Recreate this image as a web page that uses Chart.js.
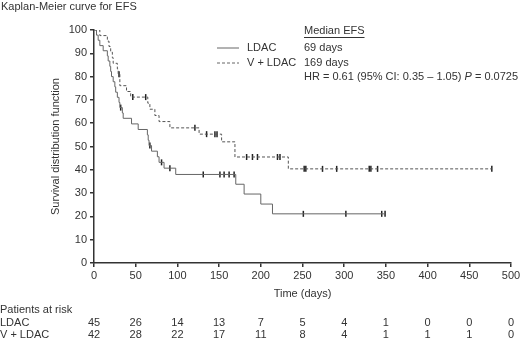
<!DOCTYPE html>
<html>
<head>
<meta charset="utf-8">
<script src="https://cdn.jsdelivr.net/npm/chart.js@4.4.0/dist/chart.umd.min.js"></script>
<style>
  html, body { margin: 0; padding: 0; background: #fff; }
  #km { display: block; }
</style>
</head>
<body>
<canvas id="km" width="520" height="340"></canvas>
<script>
// Kaplan-Meier steps: time (days) and survival (%) after each event
const ldacTimes = [0, 3, 5, 7, 11, 16, 17, 19, 20, 21, 23, 25, 26, 28, 30, 31, 34, 35, 45, 53, 64, 65, 66, 69, 76, 78, 84, 98, 170, 180, 200, 214, 349]
const ldacSurvival = [100, 97.8, 95.6, 93.3, 91.1, 88.9, 86.7, 84.4, 82.2, 80.0, 77.8, 75.6, 73.3, 71.1, 68.9, 66.7, 64.4, 62.1, 59.7, 57.3, 55.0, 52.7, 50.4, 48.0, 45.6, 43.2, 40.7, 38.0, 33.8, 29.6, 25.3, 21.1, 21.1]
const ldacCensored = [32, 67, 81, 91, 131, 151, 156, 162, 168, 251, 302, 345, 349]

const vldacTimes = [0, 7, 16, 18, 20, 22, 23, 28, 29, 31, 39, 44, 64.5, 67, 73, 78, 91, 126, 153, 169, 233, 477]
const vldacSurvival = [100, 97.6, 95.2, 92.9, 90.5, 88.1, 85.7, 83.3, 81.0, 76.1, 73.6, 71.2, 68.6, 66.0, 63.3, 60.7, 58.0, 55.3, 52.0, 45.5, 40.4, 40.4]
const vldacCensored = [30, 46.5, 62, 121, 135, 145, 147.5, 183, 190, 196, 220, 223, 252, 254, 274, 291, 330, 332, 340, 477]

// Patients at risk table
const riskTimes = [0, 50, 100, 150, 200, 250, 300, 350, 400, 450, 500]
const riskLdac = [45, 26, 14, 13, 7, 5, 4, 1, 0, 0, 0]
const riskVldac = [42, 28, 22, 17, 11, 8, 4, 1, 1, 1, 0]

const FONT = '"Liberation Sans", Arial, Helvetica, sans-serif'
const TEXT = '#333'

function stepPoints(times, surv) {
    return times.map((t, i) => ({ x: t, y: surv[i] }))
}

// survival value of the step function at a censoring time
function censorPoints(times, surv, censored) {
    return censored.map(c => {
        let s = surv[0]
        for (let i = 0; i < times.length; i++) {
            if (times[i] <= c) s = surv[i]
        }
        return { x: c, y: s }
    })
}

const annotations = {
    id: 'annotations',
    afterDraw(chart) {
        const ctx = chart.ctx
        const x = chart.scales.x
        ctx.save()
        ctx.fillStyle = TEXT
        ctx.textBaseline = 'middle'
        ctx.font = '11px ' + FONT

        ctx.textAlign = 'left'
        ctx.fillText('Kaplan-Meier curve for EFS', 1, 7)

        // legend samples
        ctx.strokeStyle = '#666'
        ctx.lineWidth = 1
        ctx.beginPath()
        ctx.moveTo(217, 48)
        ctx.lineTo(239, 48)
        ctx.stroke()
        ctx.setLineDash([3, 2])
        ctx.beginPath()
        ctx.moveTo(217, 63)
        ctx.lineTo(239, 63)
        ctx.stroke()
        ctx.setLineDash([])

        ctx.fillText('LDAC', 247, 48)
        ctx.fillText('V + LDAC', 247, 63)

        ctx.fillText('Median EFS', 304, 31)
        const w = ctx.measureText('Median EFS').width
        ctx.strokeStyle = TEXT
        ctx.beginPath()
        ctx.moveTo(304, 37.5)
        ctx.lineTo(304 + w, 37.5)
        ctx.stroke()

        ctx.fillText('69 days', 304, 48)
        ctx.fillText('169 days', 304, 63)

        let hx = 304
        const part1 = 'HR = 0.61 (95% CI: 0.35 \u2013 1.05) '
        ctx.fillText(part1, hx, 77)
        hx += ctx.measureText(part1).width
        ctx.font = 'italic 11px ' + FONT
        ctx.fillText('P', hx, 77)
        hx += ctx.measureText('P').width
        ctx.font = '11px ' + FONT
        ctx.fillText(' = 0.0725', hx, 77)

        // patients at risk
        ctx.fillText('Patients at risk', 0, 310)
        ctx.fillText('LDAC', 0, 323)
        ctx.fillText('V + LDAC', 0, 335)
        ctx.textAlign = 'center'
        riskTimes.forEach((t, i) => {
            const px = x.getPixelForValue(t)
            ctx.fillText(String(riskLdac[i]), px, 323)
            ctx.fillText(String(riskVldac[i]), px, 335)
        })
        ctx.restore()
    }
}

function pinPadding(scale) {
    scale.paddingTop = 0
    scale.paddingBottom = 0
    scale.paddingLeft = 0
    scale.paddingRight = 0
}

const data = {
    datasets: [
        {
            label: 'LDAC',
            data: stepPoints(ldacTimes, ldacSurvival),
            stepped: 'before',
            borderColor: '#666',
            borderWidth: 1,
            pointRadius: 0,
            fill: false
        },
        {
            label: 'V + LDAC',
            data: stepPoints(vldacTimes, vldacSurvival),
            stepped: 'before',
            borderColor: '#555',
            borderWidth: 1,
            borderDash: [3, 2],
            pointRadius: 0,
            fill: false
        },
        {
            label: 'LDAC censored',
            type: 'scatter',
            data: censorPoints(ldacTimes, ldacSurvival, ldacCensored),
            pointStyle: 'line',
            rotation: 90,
            pointRadius: 3,
            borderColor: '#222',
            borderWidth: 1.5
        },
        {
            label: 'V + LDAC censored',
            type: 'scatter',
            data: censorPoints(vldacTimes, vldacSurvival, vldacCensored),
            pointStyle: 'line',
            rotation: 90,
            pointRadius: 3,
            borderColor: '#222',
            borderWidth: 1.5
        }
    ]
}

const config = {
    type: 'line',
    data: data,
    options: {
        responsive: false,
        animation: false,
        layout: { padding: { top: 30, right: 9, left: 0, bottom: 0 } },
        plugins: {
            legend: { display: false },
            title: { display: false },
            tooltip: { enabled: false }
        },
        scales: {
            x: {
                type: 'linear',
                min: 0,
                max: 500,
                ticks: { stepSize: 50, color: TEXT, font: { family: FONT, size: 11 }, padding: 2, maxRotation: 0 },
                grid: { drawOnChartArea: false, drawTicks: true, tickLength: 4, color: '#333', lineWidth: 1.5 },
                border: { display: true, color: '#333', width: 1.5 },
                title: { display: true, text: 'Time (days)', color: TEXT, font: { family: FONT, size: 11 }, padding: { top: 0, bottom: 39 } },
                afterFit(scale) { scale.height = 77; pinPadding(scale) }
            },
            y: {
                min: 0,
                max: 100,
                ticks: { stepSize: 10, color: TEXT, font: { family: FONT, size: 11 }, padding: 3 },
                grid: { drawOnChartArea: false, drawTicks: true, tickLength: 4, color: '#333', lineWidth: 1.5 },
                border: { display: true, color: '#333', width: 1.5 },
                title: { display: true, text: 'Survival distribution function', color: TEXT, font: { family: FONT, size: 11 }, padding: { top: 49, bottom: 0 } },
                afterFit(scale) { scale.width = 94; pinPadding(scale) }
            }
        }
    },
    plugins: [annotations]
}

const ctx = document.getElementById('km').getContext('2d')
const kmChart = new Chart(ctx, config)
</script>
</body>
</html>
